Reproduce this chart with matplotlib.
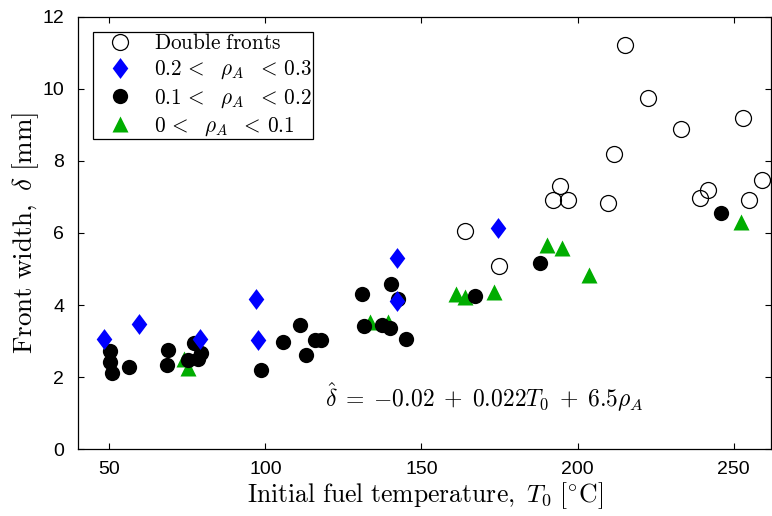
import numpy as np
import matplotlib.pyplot as plt
from matplotlib.lines import Line2D

plt.rcParams['mathtext.fontset'] = 'cm'
plt.rcParams['font.family'] = 'Liberation Sans'

# double fronts
dbl_T = [163.8, 174.9, 192.1, 194.4, 196.9, 209.7, 211.5, 215.2, 222.4, 233.2, 239.1, 241.8, 253.1, 255.0, 259.0]
dbl_w = [6.05, 5.09, 6.91, 7.31, 6.91, 6.83, 8.2, 11.21, 9.75, 8.89, 6.97, 7.2, 9.2, 6.92, 7.47]

# 0.2 < rho_A < 0.3
hi_T = [48.4, 59.6, 79.0, 97.0, 97.5, 142.3, 142.1, 174.4]
hi_w = [3.05, 3.48, 3.05, 4.17, 3.03, 5.32, 4.11, 6.15]

# 0.1 < rho_A < 0.2
mid_T = [50.3, 50.3, 50.9, 56.2, 68.7, 68.5, 75.1, 77.2, 78.3, 79.3, 98.5, 105.8, 111.0, 112.9,
         115.8, 117.7, 131.0, 140.3, 142.4, 131.7, 137.3, 139.9, 145.2, 167.0, 188.0, 246.0]
mid_w = [2.74, 2.43, 2.12, 2.29, 2.75, 2.33, 2.48, 2.94, 2.52, 2.66, 2.2, 2.98, 3.45, 2.62,
         3.03, 3.03, 4.32, 4.59, 4.18, 3.42, 3.45, 3.36, 3.05, 4.25, 5.16, 6.54]

# 0 < rho_A < 0.1
lo_T = [74.0, 75.1, 133.5, 139.2, 161.1, 163.8, 173.1, 190.2, 195.0, 203.5, 252.2]
lo_w = [2.52, 2.26, 3.54, 3.54, 4.31, 4.23, 4.37, 5.67, 5.58, 4.83, 6.31]

green = (0, 0.68, 0)
diamond = [(0, 1), (0.75, 0), (0, -1), (-0.75, 0), (0, 1)]

fig = plt.figure(figsize=(7.72, 5.16), dpi=100)
ax = fig.add_axes([0.101, 0.129, 0.898, 0.839])

ax.plot(lo_T, lo_w, '^', color=green, ms=12, mec='none', ls='none')
ax.plot(mid_T, mid_w, 'o', color='k', ms=11, mec='none', ls='none')
ax.plot(hi_T, hi_w, marker=diamond, color='b', ms=15, mec='none', ls='none')
ax.plot(dbl_T, dbl_w, 'o', mfc='none', mec='k', mew=0.9, ms=11.5, ls='none')

ax.set_xlim(40, 262)
ax.set_ylim(0, 12)
ax.set_xticks([50, 100, 150, 200, 250])
ax.set_yticks(np.arange(0, 13, 2))
ax.tick_params(direction='in', top=True, right=True, length=4, width=0.8, labelsize=14)
ax.tick_params(axis='x', pad=8)
ax.tick_params(axis='y', pad=10)
for s in ax.spines.values():
    s.set_linewidth(0.9)

ax.set_xlabel(r'$\mathrm{Initial\ fuel\ temperature,}\ T_0\ [^{\circ}\mathrm{C}]$', fontsize=18.5, labelpad=2)
ax.set_ylabel(r'$\mathrm{Front\ width,}\ \delta\ [\mathrm{mm}]$', fontsize=19.5, labelpad=1)

ax.text(170, 1.45, r'$\hat{\delta}\;=\;{-0.02}\;+\;0.022T_0\;+\;6.5\rho_A$', fontsize=17,
        ha='center', va='center')

handles = [
    Line2D([], [], ls='none', marker='o', mfc='none', mec='k', mew=0.9, ms=11.5),
    Line2D([], [], ls='none', marker=diamond, color='b', mec='none', ms=15),
    Line2D([], [], ls='none', marker='o', color='k', mec='none', ms=11),
    Line2D([], [], ls='none', marker='^', color=green, mec='none', ms=12),
]
labels = [r'$\mathrm{Double\ fronts}$',
          r'$0.2\,<\ \ \rho_A\ \ <\,0.3$',
          r'$0.1\,<\ \ \rho_A\ \ <\,0.2$',
          r'$0\,<\ \ \rho_A\ \ <\,0.1$']
leg = ax.legend(handles, labels, loc='upper left', bbox_to_anchor=(0.0216, 0.965),
                borderaxespad=0, fontsize=15.3, fancybox=False, framealpha=1,
                edgecolor='k', handlelength=2.4, handletextpad=0.4,
                labelspacing=0.27, borderpad=0.06)
leg.get_frame().set_linewidth(0.9)

plt.savefig('out.png', dpi=100)
